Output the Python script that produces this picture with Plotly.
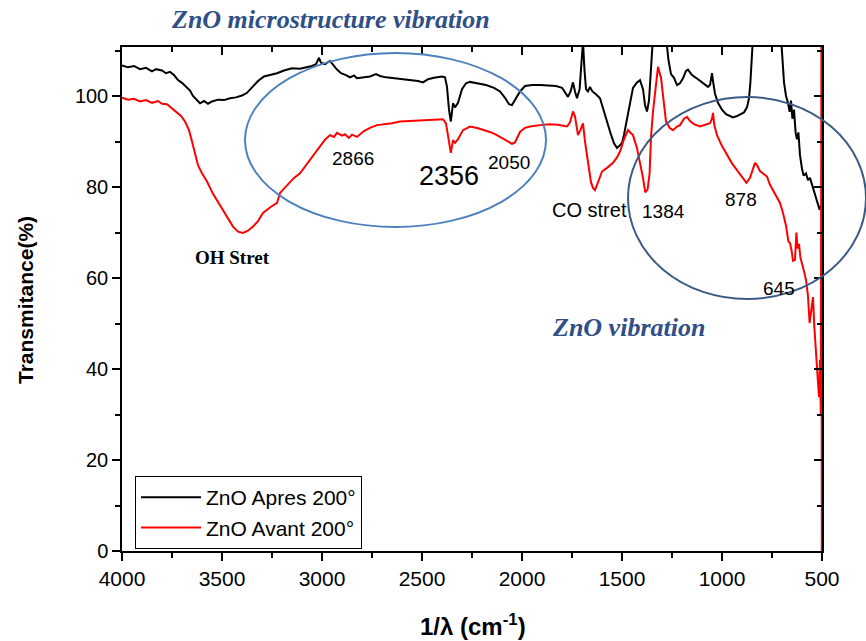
import plotly.graph_objects as go

# FTIR spectra of ZnO, before and after annealing at 200°
wn_apres = [4000, 3970, 3940, 3910, 3880, 3850, 3830, 3800, 3780, 3760, 3740, 3720, 3700,
            3680, 3660, 3645, 3630, 3610, 3590, 3570, 3550, 3520, 3490, 3460, 3430, 3400,
            3375, 3350, 3320, 3290, 3260, 3225, 3190, 3150, 3110, 3075, 3050, 3030, 3015,
            3005, 2985, 2960, 2945, 2925, 2905, 2880, 2860, 2840, 2825, 2790, 2760, 2730,
            2710, 2680, 2640, 2600, 2560, 2520, 2495, 2470, 2440, 2400, 2385, 2375, 2365,
            2356, 2350, 2345, 2335, 2320, 2300, 2280, 2260, 2220, 2180, 2140, 2110, 2085,
            2065, 2050, 2030, 2010, 1985, 1950, 1910, 1870, 1830, 1800, 1780, 1770, 1757,
            1745, 1735, 1725, 1712, 1700, 1695, 1688, 1680, 1670, 1660, 1648, 1630, 1610,
            1590, 1570, 1555, 1540, 1525, 1510, 1500, 1490, 1475, 1460, 1445, 1425, 1410,
            1395, 1385, 1375, 1365, 1355, 1345, 1280, 1268, 1255, 1240, 1225, 1210, 1195,
            1180, 1170, 1150, 1130, 1110, 1090, 1070, 1060, 1050, 1044, 1035, 1020, 1000,
            980, 960, 945, 925, 905, 890, 875, 865, 858, 850, 845, 705, 698, 690, 680, 670,
            662, 655, 648, 640, 632, 625, 618, 610, 600, 592, 580, 570, 560, 550, 540, 530,
            520, 512, 505]
t_apres = [106.7, 106.3, 106.6, 105.9, 106.2, 105.4, 105.9, 105.6, 105.0, 105.3, 104.6,
           103.5, 102.9, 102.0, 101.2, 100.0, 99.4, 98.4, 98.9, 98.3, 98.8, 99.2, 99.1,
           99.5, 99.7, 100.1, 100.7, 101.8, 103.3, 104.3, 104.6, 105.0, 105.6, 106.1,
           106.0, 106.4, 106.6, 107.0, 108.4, 107.3, 107.0, 107.7, 106.8, 105.8, 105.0,
           104.6, 104.1, 104.5, 103.9, 104.1, 104.3, 104.8, 104.4, 104.1, 103.9, 103.7,
           103.5, 103.3, 103.0, 103.7, 104.0, 104.3, 104.1, 102.0, 97.0, 94.4, 96.5, 98.4,
           97.5, 98.5, 101.5, 102.8, 103.1, 102.8, 102.4, 101.8, 101.0, 99.6, 98.2, 98.0,
           99.6, 101.0, 102.2, 102.4, 102.4, 102.3, 102.2, 101.8, 100.6, 99.8, 101.0,
           103.0, 101.0, 99.5, 101.5, 108.0, 112.0, 106.0, 101.5, 101.0, 102.0, 101.0,
           100.4, 99.5, 96.5, 93.5, 91.5, 89.6, 88.6, 89.2, 89.7, 91.5, 95.2, 99.0, 101.8,
           103.0, 103.5, 101.5, 98.0, 96.6, 99.0, 106.0, 113.0, 113.0, 108.0, 104.8,
           104.0, 102.4, 102.8, 103.9, 105.5, 105.8, 104.6, 104.0, 103.3, 102.5, 102.0,
           102.4, 105.0, 103.0, 100.5, 98.5, 97.0, 96.0, 95.6, 95.3, 95.6, 96.0, 96.4,
           97.5, 99.5, 103.0, 109.0, 113.0, 113.0, 108.0, 103.0, 100.0, 98.5, 96.5, 99.0,
           95.0, 97.0, 92.0, 90.5, 92.0, 87.0, 84.0, 82.5, 83.0, 81.5, 82.0, 80.5, 79.5,
           78.0, 76.0, 75.0, 76.0]

wn_avant = [4000, 3970, 3940, 3910, 3880, 3850, 3820, 3800, 3775, 3750, 3725, 3705, 3685,
            3665, 3650, 3635, 3620, 3600, 3575, 3545, 3510, 3475, 3445, 3420, 3395, 3370,
            3345, 3320, 3295, 3260, 3225, 3210, 3170, 3140, 3110, 3060, 3010, 2985, 2960,
            2940, 2925, 2900, 2885, 2866, 2850, 2825, 2790, 2760, 2725, 2680, 2650, 2610,
            2560, 2500, 2440, 2395, 2380, 2370, 2356, 2350, 2345, 2335, 2320, 2295, 2260,
            2220, 2180, 2160, 2130, 2110, 2085, 2050, 2035, 2010, 1985, 1960, 1910, 1860,
            1820, 1790, 1775, 1760, 1745, 1735, 1720, 1708, 1695, 1685, 1670, 1655, 1645,
            1635, 1620, 1600, 1575, 1560, 1545, 1525, 1510, 1490, 1470, 1455, 1445, 1425,
            1410, 1395, 1384, 1372, 1362, 1355, 1345, 1330, 1320, 1305, 1292, 1280, 1262,
            1245, 1225, 1210, 1190, 1175, 1160, 1140, 1110, 1085, 1060, 1050, 1045, 1038,
            1025, 1000, 975, 950, 925, 900, 878, 860, 845, 835, 825, 810, 790, 775, 760,
            745, 725, 710, 695, 680, 668, 660, 652, 645, 635, 628, 622, 615, 608, 600, 590,
            580, 570, 562, 555, 545, 538, 530, 525, 520, 515, 510, 506, 503, 501]
t_avant = [99.6, 99.2, 99.4, 98.8, 99.1, 98.5, 98.9, 98.3, 98.2, 97.3, 96.3, 95.6, 94.4,
           92.5, 90.0, 87.5, 84.8, 83.0, 81.2, 78.5, 76.0, 73.5, 71.3, 70.2, 69.9, 70.4,
           71.3, 72.5, 74.3, 75.5, 76.5, 78.7, 80.6, 82.0, 83.0, 86.0, 88.9, 90.4, 91.4,
           91.0, 91.9, 91.3, 91.6, 90.8, 91.5, 91.0, 92.3, 93.0, 93.6, 93.8, 94.0, 94.4,
           94.5, 94.7, 94.9, 94.9, 94.0, 91.0, 87.5, 89.0, 90.3, 89.7, 90.5, 92.5, 93.3,
           92.9, 92.4, 92.1, 91.5, 91.0, 90.2, 89.5, 89.8, 92.1, 93.0, 93.3, 93.6, 93.8,
           93.7, 93.4, 93.3, 94.2, 96.6, 95.5, 91.4, 92.5, 94.0, 90.0, 85.6, 81.0, 79.8,
           79.3, 81.0, 83.4, 84.2, 84.7, 85.3, 86.5, 87.8, 90.5, 92.5, 91.8, 91.4, 88.5,
           85.6, 82.0, 78.8, 79.5, 83.0, 91.0, 96.6, 103.0, 106.4, 104.0, 99.0, 94.4, 93.0,
           92.5, 93.3, 93.6, 95.0, 95.4, 94.5, 93.8, 93.3, 93.6, 94.0, 95.0, 96.3, 93.5,
           91.4, 89.0, 87.0, 85.2, 83.7, 82.3, 80.9, 82.0, 84.0, 85.3, 84.8, 83.5, 82.8,
           82.3, 80.5, 79.3, 77.9, 76.5, 74.3, 71.5, 68.0, 67.7, 66.0, 63.8, 64.0, 70.0,
           66.5, 67.5, 64.5, 63.3, 61.5, 59.6, 56.0, 50.1, 53.0, 55.8, 49.0, 44.5, 40.4,
           37.0, 33.8, 42.0, 30.0, 111.0, 0.0]

x_ticks = [4000, 3500, 3000, 2500, 2000, 1500, 1000, 500]
y_ticks = [0, 20, 40, 60, 80, 100]
series_names = ["ZnO Apres 200°", "ZnO Avant 200°"]

W, H = 866, 641
L, R, T, B = 122, 822, 47, 551


def px(x):
    return (x - L) / (R - L)


def py(y):
    return (B - y) / (B - T)


fig = go.Figure()
fig.add_trace(go.Scatter(x=wn_apres, y=t_apres, mode="lines", name=series_names[0],
                         line=dict(color="black", width=2)))
fig.add_trace(go.Scatter(x=wn_avant, y=t_avant, mode="lines", name=series_names[1],
                         line=dict(color="#ff0000", width=2)))
# carrier for the mirrored top/right axes
fig.add_trace(go.Scatter(x=[None], y=[None], xaxis="x2", yaxis="y2", showlegend=False,
                         hoverinfo="skip"))

sans = "Liberation Sans, Arial"
xtickfont = dict(family=sans, size=21, color="black")
ytickfont = dict(family=sans, size=20, color="black")
xr = [4000, 500]
yr = [0, 110.77]
common = dict(showgrid=False, zeroline=False, showline=True, linecolor="black",
              linewidth=1.5, tickcolor="black", tickwidth=1.5)

fig.update_layout(
    width=W, height=H,
    margin=dict(l=L, r=W - R, t=T, b=H - B),
    paper_bgcolor="white", plot_bgcolor="white",
    xaxis=dict(range=xr, tickvals=x_ticks, ticks="outside", ticklen=8,
               tickfont=xtickfont, minor=dict(dtick=250, ticks="outside", ticklen=5,
                                              tickcolor="black", tickwidth=1.5),
               **common),
    yaxis=dict(range=yr, tickvals=y_ticks, ticks="outside", ticklen=8,
               tickfont=ytickfont, minor=dict(dtick=10, ticks="outside", ticklen=5,
                                              tickcolor="black", tickwidth=1.5),
               **common),
    xaxis2=dict(range=xr, overlaying="x", side="top", tickvals=x_ticks, ticks="inside",
                ticklen=8, showticklabels=False,
                minor=dict(dtick=250, ticks="inside", ticklen=5, tickcolor="black",
                           tickwidth=1.5), **common),
    yaxis2=dict(range=yr, overlaying="y", side="right", tickvals=y_ticks, ticks="inside",
                ticklen=8, showticklabels=False,
                minor=dict(dtick=10, ticks="inside", ticklen=5, tickcolor="black",
                           tickwidth=1.5), **common),
    legend=dict(x=px(135), y=py(476), xanchor="left", yanchor="top",
                bgcolor="white", bordercolor="black", borderwidth=1,
                font=dict(family=sans, size=21, color="black"),
                itemwidth=60, tracegroupgap=0),
    showlegend=True,
)

# highlighted regions
fig.add_shape(type="circle", xref="paper", yref="paper",
              x0=px(245), x1=px(546), y0=py(227), y1=py(53),
              line=dict(color="#4f81bd", width=2))
fig.add_shape(type="circle", xref="paper", yref="paper",
              x0=px(628), x1=px(866), y0=py(299), y1=py(97),
              line=dict(color="#3b5b86", width=2))

serif_bi = dict(family="Liberation Serif, Times New Roman", size=26, color="#2f4f86")
labels = [
    ("<b><i>ZnO microstructure vibration</i></b>", 330, 20, serif_bi),
    ("<b><i>ZnO vibration</i></b>", 628, 327, serif_bi),
    ("<b>OH Stret</b>", 232, 257, dict(family="Liberation Serif", size=19, color="black")),
    ("2866", 353, 158, dict(family=sans, size=19, color="black")),
    ("2356", 449, 176, dict(family=sans, size=27, color="black")),
    ("2050", 509, 162, dict(family=sans, size=19, color="black")),
    ("CO stret", 589, 210, dict(family=sans, size=20, color="black")),
    ("1384", 663, 212, dict(family=sans, size=19, color="black")),
    ("878", 741, 199, dict(family=sans, size=19, color="black")),
    ("645", 779, 288, dict(family=sans, size=19, color="black")),
    ("<b>Transmitance(%)</b>", 25, 300, dict(family=sans, size=21, color="black")),
    ("<b>1/λ (cm<sup>-1</sup>)</b>", 473, 625, dict(family=sans, size=24, color="black")),
]
for text, x, y, font in labels:
    fig.add_annotation(text=text, x=px(x), y=py(y), xref="paper", yref="paper",
                       showarrow=False, font=font, xanchor="center", yanchor="middle",
                       textangle=-90 if text.startswith("<b>Trans") else 0)

fig.write_html("out.html")
